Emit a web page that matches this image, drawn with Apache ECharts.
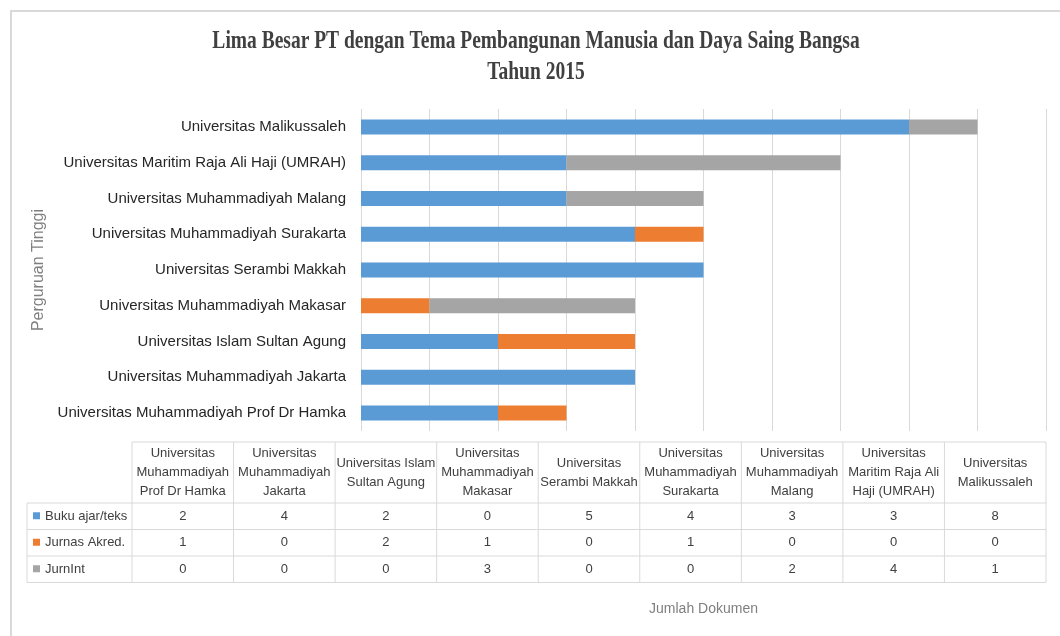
<!DOCTYPE html>
<html>
<head>
<meta charset="utf-8">
<script src="https://cdn.jsdelivr.net/npm/echarts@6/dist/echarts.min.js"></script>
<style>
html,body{margin:0;padding:0;background:#fff;}
#chart{width:1060px;height:636px;}
</style>
</head>
<body>
<div id="chart"></div>
<script>
// ---- data ----
const categories = [
  'Universitas Muhammadiyah Prof Dr Hamka',
  'Universitas Muhammadiyah Jakarta',
  'Universitas Islam Sultan Agung',
  'Universitas Muhammadiyah Makasar',
  'Universitas Serambi Makkah',
  'Universitas Muhammadiyah Surakarta',
  'Universitas Muhammadiyah Malang',
  'Universitas Maritim Raja Ali Haji (UMRAH)',
  'Universitas Malikussaleh'
];
const tableHeaders = [
  'Universitas\nMuhammadiyah\nProf Dr Hamka',
  'Universitas\nMuhammadiyah\nJakarta',
  'Universitas Islam\nSultan Agung',
  'Universitas\nMuhammadiyah\nMakasar',
  'Universitas\nSerambi Makkah',
  'Universitas\nMuhammadiyah\nSurakarta',
  'Universitas\nMuhammadiyah\nMalang',
  'Universitas\nMaritim Raja Ali\nHaji (UMRAH)',
  'Universitas\nMalikussaleh'
];
const seriesNames = ['Buku ajar/teks', 'Jurnas Akred.', 'JurnInt'];
const bukuAjar   = [2, 4, 2, 0, 5, 4, 3, 3, 8];
const jurnasAkred = [1, 0, 2, 1, 0, 1, 0, 0, 0];
const jurnInt    = [0, 0, 0, 3, 0, 0, 2, 4, 1];
const titleText = 'Lima Besar PT dengan Tema Pembangunan Manusia dan Daya Saing Bangsa\nTahun 2015';
const yAxisName = 'Perguruan Tinggi';
const xAxisName = 'Jumlah Dokumen';

// ---- styles ----
const colors = ['#5b9bd5', '#ed7d31', '#a5a5a5'];
const seriesData = [bukuAjar, jurnasAkred, jurnInt];
const font = "'Liberation Sans', Arial, sans-serif";
const lineColor = '#d9d9d9';

// table geometry
const tLeft = 132, tRight = 1046, legLeft = 27;
const tTop = 442, hdrBottom = 503, rowH = 26.5;
const colW = (tRight - tLeft) / tableHeaders.length;

const graphics = [];
// outer frame
graphics.push({type: 'rect', shape: {x: 11, y: 11, width: 1200, height: 800},
  style: {fill: 'none', stroke: lineColor, lineWidth: 2}, silent: true});
// title
graphics.push({type: 'text', x: 536, y: 57, scaleX: 0.75,
  style: {text: titleText, x: 0, y: 0, font: "bold 26px 'Liberation Serif', 'Times New Roman', serif",
    fill: '#404040', align: 'center', verticalAlign: 'middle', textAlign: 'center', textVerticalAlign: 'middle',
    lineHeight: 31}});

// table lines
const nRows = seriesNames.length;
const tBottom = hdrBottom + nRows * rowH;
graphics.push({type: 'line', shape: {x1: tLeft, y1: tTop, x2: tRight, y2: tTop}, style: {stroke: lineColor, lineWidth: 1}});
for (let r = 0; r <= nRows; r++) {
  const y = hdrBottom + r * rowH;
  graphics.push({type: 'line', shape: {x1: legLeft, y1: y, x2: tRight, y2: y}, style: {stroke: lineColor, lineWidth: 1}});
}
graphics.push({type: 'line', shape: {x1: legLeft, y1: hdrBottom, x2: legLeft, y2: tBottom}, style: {stroke: lineColor, lineWidth: 1}});
for (let c = 0; c <= tableHeaders.length; c++) {
  const x = tLeft + c * colW;
  graphics.push({type: 'line', shape: {x1: x, y1: tTop, x2: x, y2: tBottom}, style: {stroke: lineColor, lineWidth: 1}});
}
// headers
tableHeaders.forEach((h, c) => {
  graphics.push({type: 'text', style: {text: h, x: tLeft + (c + 0.5) * colW, y: (tTop + hdrBottom) / 2,
    font: "13px " + font, fill: '#404040', align: 'center', verticalAlign: 'middle',
    textAlign: 'center', textVerticalAlign: 'middle', lineHeight: 19}});
});
// rows
seriesNames.forEach((name, r) => {
  const cy = hdrBottom + (r + 0.5) * rowH;
  graphics.push({type: 'rect', shape: {x: 33, y: cy - 4, width: 7, height: 7}, style: {fill: colors[r]}});
  graphics.push({type: 'text', style: {text: name, x: 45, y: cy, font: "13px " + font, fill: '#404040',
    align: 'left', verticalAlign: 'middle', textAlign: 'left', textVerticalAlign: 'middle'}});
  seriesData[r].forEach((v, c) => {
    graphics.push({type: 'text', style: {text: String(v), x: tLeft + (c + 0.5) * colW, y: cy,
      font: "13px " + font, fill: '#404040', align: 'center', verticalAlign: 'middle',
      textAlign: 'center', textVerticalAlign: 'middle'}});
  });
});

const chart = echarts.init(document.getElementById('chart'), null, {renderer: 'canvas'});
chart.setOption({
  animation: false,
  backgroundColor: '#fff',
  color: colors,
  grid: {left: 361, right: 14, top: 109, bottom: 205, containLabel: false},
  xAxis: {
    type: 'value', min: 0, max: 10, interval: 1,
    axisLabel: {show: false}, axisTick: {show: false}, axisLine: {show: false},
    splitLine: {show: true, lineStyle: {color: lineColor, width: 1}},
    name: xAxisName, nameLocation: 'middle', nameGap: 171,
    nameTextStyle: {color: '#7f7f7f', fontSize: 14, fontFamily: font}
  },
  yAxis: {
    type: 'category', data: categories,
    axisTick: {show: false}, axisLine: {show: false},
    axisLabel: {color: '#262626', fontSize: 15, fontFamily: font, margin: 15},
    name: yAxisName, nameLocation: 'middle', nameGap: 305, nameRotate: 90,
    nameTextStyle: {color: '#7f7f7f', fontSize: 16, fontFamily: font}
  },
  series: seriesNames.map((n, i) => ({
    name: n, type: 'bar', stack: 'total', data: seriesData[i], barWidth: 15,
    itemStyle: {color: colors[i]}
  })),
  graphic: graphics
});
</script>
</body>
</html>
